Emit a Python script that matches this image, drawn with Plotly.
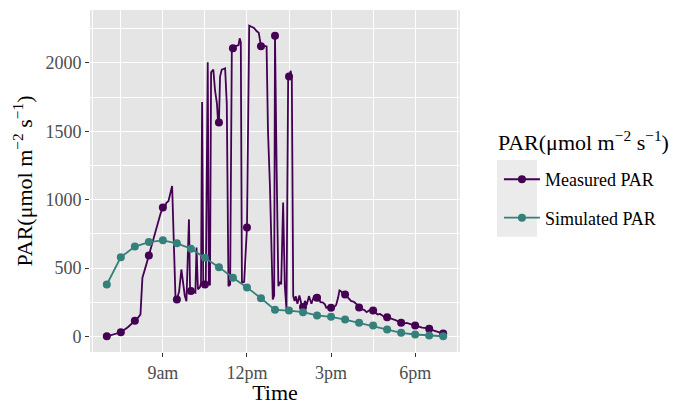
import plotly.graph_objects as go

# ---------------- data ----------------
# Measured PAR (high-resolution logger record); time in decimal hours
meas_time = [7.00, 7.25, 7.50, 7.75, 8.00, 8.10, 8.20, 8.27, 8.40, 8.50, 8.65, 8.80, 8.92, 9.00,
             9.05, 9.12, 9.20, 9.33, 9.40, 9.45, 9.50, 9.58, 9.66, 9.72, 9.78, 9.84, 9.90, 9.93,
             9.97, 10.00, 10.05, 10.10, 10.16, 10.20, 10.25, 10.32, 10.36, 10.40, 10.44, 10.47,
             10.50, 10.53, 10.58, 10.60, 10.64, 10.68, 10.72, 10.76, 10.80, 10.86, 10.93, 10.97,
             11.00, 11.04, 11.10, 11.16, 11.22, 11.28, 11.34, 11.40, 11.46, 11.50, 11.58, 11.70,
             11.74, 11.78, 11.82, 11.90, 12.00, 12.08, 12.15, 12.25, 12.35, 12.42, 12.50, 12.60,
             12.70, 12.75, 12.82, 12.92, 12.97, 13.00, 13.06, 13.12, 13.18, 13.22, 13.29, 13.35,
             13.41, 13.47, 13.50, 13.56, 13.60, 13.65, 13.70, 13.74, 13.80, 13.87, 13.95, 14.00,
             14.07, 14.13, 14.21, 14.30, 14.39, 14.45, 14.50, 14.58, 14.62, 14.70, 14.78, 14.83,
             14.92, 15.00, 15.10, 15.18, 15.25, 15.30, 15.36, 15.42, 15.50, 15.56, 15.62, 15.72,
             15.80, 15.85, 15.92, 16.00, 16.10, 16.18, 16.27, 16.35, 16.42, 16.50, 16.58, 16.66,
             16.75, 16.85, 17.00, 17.10, 17.20, 17.30, 17.40, 17.50, 17.60, 17.70, 17.85, 18.00,
             18.10, 18.25, 18.40, 18.50, 18.60, 18.75, 18.90, 19.00]
meas_par = [2, 14, 31, 68, 115, 135, 160, 430, 520, 593, 720, 830, 900, 942,
            920, 975, 990, 1100, 500, 283, 271, 330, 490, 380, 300, 258, 600, 856,
            340, 332, 340, 325, 320, 651, 345, 360, 390, 1713, 400, 370,
            381, 395, 1500, 2004, 385, 375, 1930, 1940, 1950, 1800, 1700, 1560,
            1564, 1900, 1950, 1955, 1960, 1700, 368, 380, 2101, 2106, 2120, 2130,
            2179, 2150, 393, 400, 796, 2272, 2265, 2255, 2230, 2220, 2121, 2125,
            2120, 1500, 1100, 271, 300, 2198, 1200, 368, 400, 380, 979, 368,
            198, 1906, 1900, 1942, 1880, 295, 260, 295, 240, 300, 230, 215,
            260, 230, 295, 240, 295, 300, 283, 270, 251, 250, 235, 210,
            220, 210, 215, 230, 283, 337, 330, 315, 307, 290, 280, 258,
            255, 247, 235, 212, 198, 195, 178, 190, 195, 190, 175, 161,
            165, 150, 141, 135, 124, 120, 110, 100, 95, 100, 88, 80,
            75, 65, 62, 56, 50, 40, 30, 22]

# Simulated PAR, half-hourly 7:00 - 19:00
sim_time = [7.0, 7.5, 8.0, 8.5, 9.0, 9.5, 10.0, 10.5, 11.0, 11.5, 12.0, 12.5, 13.0,
            13.5, 14.0, 14.5, 15.0, 15.5, 16.0, 16.5, 17.0, 17.5, 18.0, 18.5, 19.0]
sim_par = [380, 580, 657, 690, 703, 681, 642, 576, 507, 430, 359, 280, 195,
           190, 178, 154, 144, 124, 100, 80, 51, 27, 15, 7, 2]

x_tick_vals = [9, 12, 15, 18]
x_tick_text = ["9am", "12pm", "3pm", "6pm"]
y_tick_vals = [0, 500, 1000, 1500, 2000]
series_names = ["Measured PAR", "Simulated PAR"]
legend_title = "PAR(μmol m<sup>−2</sup> s<sup>−1</sup>)"

# measured markers at half-hour readings
meas_mk_t = [t for t in meas_time if abs(t * 2 - round(t * 2)) < 1e-9]
meas_mk_v = [v for t, v in zip(meas_time, meas_par) if abs(t * 2 - round(t * 2)) < 1e-9]

# ---------------- style ----------------
C_MEAS = "#440154"
C_SIM = "#35807A"
FONT = "Liberation Serif"

fig = go.Figure()
fig.add_trace(go.Scatter(x=meas_time, y=meas_par, mode="lines",
                         line=dict(color=C_MEAS, width=1.8), showlegend=False))
fig.add_trace(go.Scatter(x=meas_mk_t, y=meas_mk_v, mode="markers",
                         marker=dict(color=C_MEAS, size=8), showlegend=False))
fig.add_trace(go.Scatter(x=sim_time, y=sim_par, mode="lines+markers",
                         line=dict(color=C_SIM, width=1.8),
                         marker=dict(color=C_SIM, size=8), showlegend=False))
# legend entries
for name, col in zip(series_names, [C_MEAS, C_SIM]):
    fig.add_trace(go.Scatter(x=[None], y=[None], mode="lines+markers", name=name,
                             legendgroup=name,
                             line=dict(color=col, width=1.8),
                             marker=dict(color=col, size=8)))

W, H = 678, 405
L, R, T, B = 89.5, 218, 9.5, 52.5
pw, ph = W - L - R, H - T - B

def px_x(p):
    return (p - L) / pw

def px_y(p):
    return (H - B - p) / ph

fig.add_shape(type="rect", xref="paper", yref="paper",
              x0=px_x(497), x1=px_x(537), y0=px_y(237), y1=px_y(160),
              fillcolor="#EBEBEB", line=dict(width=0), layer="below")

fig.add_annotation(text=legend_title, xref="paper", yref="paper",
                   x=px_x(496), xanchor="left", y=px_y(141), yanchor="middle",
                   showarrow=False, font=dict(family=FONT, size=22, color="black"))

axis_common = dict(showline=False, zeroline=False, ticks="outside", ticklen=4,
                   tickwidth=1.1, tickcolor="#333333", gridcolor="white", gridwidth=1.1,
                   tickfont=dict(family=FONT, size=18, color="#4D4D4D"))

fig.update_layout(
    width=W, height=H,
    margin=dict(l=L, r=R, t=T, b=B, autoexpand=False),
    paper_bgcolor="white", plot_bgcolor="#E5E5E5",
    font=dict(family=FONT, color="black"),
    xaxis=dict(range=[6.4, 19.6], tickvals=x_tick_vals, ticktext=x_tick_text,
               title=dict(text="Time", font=dict(family=FONT, size=22), standoff=2),
               minor=dict(tickvals=[6.5, 7.5, 10.5, 13.5, 16.5, 19.5], showgrid=True,
                          gridcolor="white", gridwidth=0.6, ticks=""),
               **axis_common),
    yaxis=dict(range=[-113, 2386], tickvals=y_tick_vals,
               title=dict(text=legend_title,
                          font=dict(family=FONT, size=22), standoff=6),
               minor=dict(tickvals=[250, 750, 1250, 1750, 2250], showgrid=True,
                          gridcolor="white", gridwidth=0.6, ticks=""),
               **axis_common),
    legend=dict(x=px_x(499), xanchor="left", y=px_y(161), yanchor="top",
                bgcolor="rgba(0,0,0,0)", traceorder="grouped", tracegroupgap=12,
                itemwidth=36,
                font=dict(family=FONT, size=18, color="black")),
)

fig.write_html("out.html")
